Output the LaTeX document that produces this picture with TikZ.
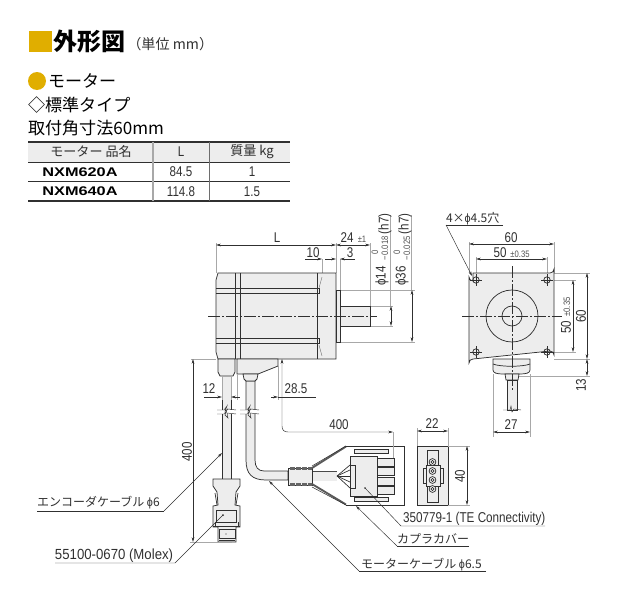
\documentclass[tikz,border=0pt]{standalone}
\usepackage{fontspec}
\usetikzlibrary{arrows.meta}
\setmainfont{Liberation Sans}
\newfontfamily\jpf{Noto Sans CJK JP}
\newfontfamily\nar{Liberation Sans}[FakeStretch=0.82]
\newfontfamily\semi{Liberation Sans}[FakeStretch=0.9]
\newfontfamily\wide{Liberation Sans}[FakeStretch=1.3]
\definecolor{gold}{HTML}{E0AE00}
\definecolor{ink}{HTML}{303030}
\definecolor{bodyc}{HTML}{EDEDED}
\definecolor{ext}{HTML}{A8A8A8}
\tikzset{
 lbl/.style={inner sep=0pt,outer sep=0pt,font=\nar\fontsize{10.6}{11}\selectfont,text=ink},
 sml/.style={inner sep=0pt,outer sep=0pt,font=\nar\fontsize{7}{8}\selectfont,text=ink!85},
 jpl/.style={inner sep=0pt,outer sep=0pt,font=\jpf\fontsize{9}{10}\selectfont,text=ink},
 head/.style={inner sep=0pt,outer sep=0pt,font=\jpf\fontsize{12.8}{14}\selectfont,text=black},
 boldr/.style={inner sep=0pt,outer sep=0pt,font=\wide\bfseries\fontsize{9.4}{10}\selectfont,text=black},
 dimn/.style={line width=.35pt,draw=ink,{Stealth[length=3.6pt,width=2pt]}-{Stealth[length=3.6pt,width=2pt]}},
 oneway/.style={line width=.35pt,draw=ink,-{Stealth[length=3.6pt,width=2pt]}},
 extl/.style={line width=.6pt,draw=ext},
 outl/.style={line width=.55pt,draw=ink,fill=bodyc},
 outn/.style={line width=.55pt,draw=ink},
 cen/.style={line width=.3pt,draw=ink,dash pattern=on 9pt off 1.5pt on 1.5pt off 1.5pt},
 lead/.style={line width=.35pt,draw=ink},
}
\begin{document}
\begin{tikzpicture}[x=0.75pt,y=-0.75pt]
\useasboundingbox (0,0) rectangle (618,600);
% ---------- heading
\fill[gold] (29,31) rectangle (52,52);
\node[inner sep=0pt,anchor=west,font=\jpf\bfseries\fontsize{18}{20}\selectfont] (ttl) at (53,41) {外形図};
\node[inner sep=0pt,anchor=west,font=\jpf\fontsize{10.6}{12}\selectfont,text=ink] (unitn) at (127,44) {（単位 mm）};
\fill[gold] (37,81) circle (9);
\node[head,anchor=west] (h1) at (48,81) {モーター};
\node[head,anchor=west] (h2) at (28,105) {◇標準タイプ};
\node[head,anchor=west] (h3) at (28,128) {取付角寸法60mm};
% ---------- table
\fill[bodyc] (28,142) rectangle (290,162);
\draw[line width=.9pt,ink] (28,142) -- (290,142);
\draw[line width=.7pt,ink] (28,162) -- (290,162);
\draw[line width=.5pt,ink] (28,181) -- (290,181);
\draw[line width=.8pt,ink] (28,201) -- (290,201);
\draw[line width=1pt,ext] (153,142) -- (153,201);
\draw[line width=.5pt,ink!70] (209,142) -- (209,201);
\node[jpl,font=\jpf\fontsize{9.8}{10}\selectfont] (t1) at (91,152) {モーター 品名};
\node[lbl] (t2) at (181,152) {L};
\node[jpl,font=\jpf\fontsize{9.8}{10}\selectfont] (t3) at (252,152) {質量 kg};
\node[boldr] (r1) at (80,172) {NXM620A};
\node[lbl] (r1b) at (181,172) {84.5};
\node[lbl] (r1c) at (252,172) {1};
\node[boldr] (r2) at (80,191) {NXM640A};
\node[lbl] (r2b) at (181,192) {114.8};
\node[lbl] (r2c) at (252,192) {1.5};
% ---------- side view: extension lines beneath
\draw[extl] (216,273)--(216,243) (336,273)--(336,243) (370,306)--(370,243);
\draw[extl] (322,281)--(322,259) (340,290)--(340,259);
\draw[extl] (370,306)--(393,306) (370,326)--(393,326) (340,290)--(415,290) (340,342)--(415,342);
\draw[extl] (390,306)--(390,215) (411,290)--(411,215);
% motor
\draw[outl] (336,273) -- (218,273) -- (216,280) -- (216,352) -- (218,359) -- (336,359) -- cycle;
\draw[outl] (336,290) rectangle (340,342);
\draw[outl] (340,306) rectangle (370,326);
\draw[outn] (235,273)--(235,359) (240,273)--(240,359) (317,273)--(317,359);
\draw[outn] (216,288.5)--(319,288.5)--(319,293)--(216,293);
\draw[outn] (216,338)--(319,338)--(319,343)--(216,343);
\draw[line width=.3pt,ink!70] (319,288)--(322,277) (319,345)--(322,356);
\draw[cen] (208,316)--(377,316);
% encoder lead
\draw[outl] (222,375) rectangle (231,479);
\draw[outl] (218,359)--(235,359)--(235,372)--(233,376)--(220,376)--(218,372)--cycle;
% motor lead
\draw[outl] (246,381) -- (246,460) .. controls (246,474) and (252,480) .. (266,480) -- (288,480) -- (288,471) -- (264,471) .. controls (258,471) and (255,467) .. (255,460) -- (255,381) -- cycle;
\draw[outl] (237,359)--(278,359)--(278,366)--(258,374)--(237,374)--cycle;
\draw[outl] (243,374)--(258,374)--(257,379)--(255,381)--(246,381)--(244,379)--cycle;
% breaks
\foreach \x/\a/\b in {226/217/236,249/240/259}{
 \fill[white] (\a,410) rectangle (\b,414);
 \draw[line width=.35pt,ink] (\a,410)--(\x-2,410)--(\x+1,406)--(\x-1,411)--(\x+2,409)--(\b,410);
 \draw[line width=.35pt,ink] (\a,414)--(\x-2,414)--(\x+1,410)--(\x-1,415)--(\x+2,418)--(\x+1,413)--(\b,414);
}
% encoder connector
\draw[outl] (213,479)--(240,479)--(240,486)--(236,492)--(235,505)--(240,506)--(240,527)--(236,527)--(236,542)--(218,542)--(218,527)--(213,527)--(213,506)--(218,505)--(217,492)--(213,486)--cycle;
\draw[outn] (215,493)--(217,505) (238,493)--(236,505);
\draw[outl] (216,510) rectangle (236,522);
\draw[outn] (215,522)--(215,527) (238,522)--(238,527) (213,526)--(240,526);
\draw[outl] (219,529) rectangle (235,538);
\draw[outn] (219,540)--(235,540);
\fill[ink] (226,534) circle (.7);
% coupler
\draw[outl] (288,468)--(312,468)--(312,485)--(288,485)--cycle;
\draw[line width=1.6pt,ink!75,dash pattern=on 4pt off .5pt] (290,468.5)--(312,468.5) (290,484.5)--(312,484.5);
\draw[outl] (312,471) rectangle (337,481);
\fill[white,draw=none] (313,468)--(346,446)--(404,446)--(404,505)--(346,505)--(313,485)--(313,481)--(337,481)--(337,471)--(313,471)--cycle;
\draw[line width=.55pt,ink] (404,446)--(404,505)--(346,505);
\draw[line width=.55pt,ink] (404,446)--(346,446);
\draw[line width=1.4pt,ink!80] (346,446.5)--(312,468);
\draw[line width=1.4pt,ink!80] (346,504.5)--(312,484);
\draw[line width=.4pt,ink] (346,446)--(312,466) (346,505)--(312,487);
% cover latches
\draw[outl] (354,449)rectangle(388,453);
\draw[outl] (354,497)rectangle(388,501);
% terminals
\foreach \y in {458,467,477,486}{\draw[outl] (377,\y) rectangle (394,\y+8);}
\foreach \y in {465,470,476,482,488}{\draw[line width=.5pt,ink] (337,476)--(350,\y);}
\draw[outl] (350,456)--(377,456)--(377,496)--(350,496)--cycle;
\draw[outn] (350,465)--(355,465)--(355,488)--(350,488);
\fill[ink] (365,488) circle (.9);
% connector front view
\draw[outl] (417,446) rectangle (448,505);
\draw[outl] (427,450) rectangle (438,502);
\draw[outl] (423,468) rectangle (443,483);
\draw[outl] (426,465) rectangle (440,486);
\foreach \y in {462,471,480,489}{\draw[outn,fill=white] (432.5,\y) circle (3.4);\draw[outn] (432.5,\y) circle (1.7);}
% side dims
\draw[dimn] (216,245)--(336,245);
\draw[dimn] (336,245)--(370,245);
\node[lbl] (dL) at (277,238) {L};
\node[lbl] (d24) at (347,238) {24};
\node[sml] (d24t) at (362,239) {±1};
\draw[lead] (305,259)--(314,259);
\draw[oneway] (314,259)--(322,259);
\draw[oneway] (347,259)--(340,259);
\draw[oneway] (325,259)--(336,259);
\draw[lead] (355,259)--(347,259);
\node[lbl] (d10) at (313,253) {10};
\node[lbl] (d3) at (350,253) {3};
\draw[dimn] (391,306)--(391,326);
\draw[dimn] (412,290)--(412,342);
\node[lbl,rotate=90] (p14) at (382,276) {ϕ14};
\node[sml,rotate=90] (p14a) at (375,252) {0};
\node[sml,rotate=90,anchor=west] (p14b) at (385,260) {−0.018};
\node[lbl,rotate=90,anchor=west] (p14c) at (385,234) {(h7)};
\node[lbl,rotate=90] (p36) at (402,276) {ϕ36};
\node[sml,rotate=90] (p36a) at (397,252) {0};
\node[sml,rotate=90,anchor=west] (p36b) at (407,260) {−0.025};
\node[lbl,rotate=90,anchor=west] (p36c) at (405,234) {(h7)};
% lead dims
\draw[extl] (222,376)--(222,400) (231,376)--(231,400) (237,374)--(237,400) (278,366)--(278,400);
\draw[lead] (204,397)--(215,397);
\draw[oneway] (215,397)--(222,397);
\draw[oneway] (237,397)--(231,397);
\draw[lead] (237,397)--(240,397);
\draw[oneway] (271,397)--(278,397);
\draw[lead] (278,397)--(316,397);
\node[lbl] (d12) at (209,389) {12};
\node[lbl] (d285) at (296,389) {28.5};
\draw[extl] (191,359)--(216,359) (190,542)--(232,542);
\draw[dimn] (193,359)--(193,542);
\node[lbl,rotate=90] (d400a) at (187,452) {400};
\draw[extl] (393,432)--(393,458);
\draw[line width=.35pt,ink,{Stealth[length=3.6pt,width=2pt]}-{Stealth[length=3.6pt,width=2pt]}] (282,359)--(282,426) .. controls (282,430) and (284,432) .. (288,432) -- (393,432);
\node[lbl] (d400b) at (339,425) {400};
% 22 / 40
\draw[extl] (417,428)--(417,446) (448,428)--(448,446);
\draw[dimn] (417,431)--(448,431);
\node[lbl] (d22) at (432,424) {22};
\draw[extl] (448,446)--(470,446) (448,505)--(470,505);
\draw[dimn] (467,446)--(467,505);
\node[lbl,rotate=90] (d40) at (460,476) {40};
% ---------- front view
\draw[extl] (469,273)--(469,242) (554,273)--(554,242) (476,280)--(476,257) (547,280)--(547,257);
\draw[extl] (554,273)--(590,273) (554,359)--(590,359) (519,376)--(590,376);
\draw[extl] (547,280)--(576,280) (547,352)--(576,352);
\draw[extl] (493,374)--(493,437) (530,374)--(530,437);
\draw[outl] (473,273)--(550,273) arc (90:0:4) -- (554,355) arc (0:-90:4) -- (473,359) arc (-90:-180:4) -- (469,277) arc (180:90:4) -- cycle;
\draw[outl] (493,359)--(530,359)--(530,370) .. controls (530,373) and (526,374) .. (520,374) -- (503,374) .. controls (497,374) and (493,373) .. (493,370) -- cycle;
\draw[outn] (493,364) .. controls (500,367) and (523,367) .. (530,364);
\draw[outl] (505,374)--(519,374)--(518,380)--(506,380)--cycle;
\draw[outl] (507,380)--(517,380)--(517,410)--(507,410)--cycle;
\draw[line width=.35pt,ink] (503,410)--(510,410)--(511,406)--(512,412)--(514,409)--(521,410);
\draw[outn] (512,316) circle (26);
\draw[outn] (512,316) circle (10);
\foreach \x/\y in {476/280,547/280,476/352,547/352}{
 \draw[outn] (\x,\y) circle (3.2);
 \draw[line width=.3pt,ink] (\x-6,\y)--(\x+6,\y) (\x,\y-6)--(\x,\y+6);
}
\draw[cen] (462,316)--(562,316);
\draw[cen] (512,266)--(512,392);
\draw[dimn] (469,244)--(554,244);
\node[lbl] (f60) at (511,238) {60};
\draw[dimn] (476,259)--(547,259);
\node[lbl] (f50) at (500,253) {50};
\node[sml] (f50t) at (520,254.5) {±0.35};
\draw[dimn] (587,273)--(587,359);
\node[lbl,rotate=90] (f60r) at (581,316) {60};
\draw[dimn] (573,280)--(573,352);
\node[lbl,rotate=90] (f50r) at (566,327) {50};
\node[sml,rotate=90] (f50rt) at (567,307) {±0.35};
\draw[dimn] (587,359)--(587,376);
\node[lbl,rotate=90] (f13) at (581,385) {13};
\draw[dimn] (493,432)--(530,432);
\node[lbl] (f27) at (511,425) {27};
% ---------- callouts
\node[jpl,anchor=base west] (c4) at (446,222) {4×{\semi ϕ}4.5穴};
\coordinate (h4) at (472,276);
\draw[lead] (503,225)--(446,225);
\draw[oneway] (446,225)--(h4);
\node[jpl,anchor=base west] (cEnc) at (37,506) {エンコーダケーブル {\semi ϕ}6};
\coordinate (hEnc) at (222,453);
\draw[lead] (37,511)--(164,511);
\draw[oneway] (164,511)--(hEnc);
\node[lbl,anchor=base west,font=\semi\fontsize{11}{12}\selectfont] (cMol) at (55,559) {55100-0670 (Molex)};
\coordinate (hMol) at (223,515);
\draw[lead] (55,563)--(175,563)--(hMol);
\fill[ink] (hMol) circle (1);
\node[lbl,anchor=base west,font=\nar\fontsize{10.7}{12}\selectfont] (cTE) at (403,522) {350779-1 (TE Connectivity)};
\coordinate (hTE) at (365,488);
\draw[lead] (545,526)--(401,526)--(hTE);
\node[jpl,anchor=base west] (cCov) at (397,543) {カプラカバー};
\coordinate (hCov) at (356,506);
\draw[lead] (469,546)--(397,546);
\draw[oneway] (397,546)--(hCov);
\node[jpl,anchor=base west] (cMot) at (361,568) {モーターケーブル {\semi ϕ}6.5};
\coordinate (hMot) at (269,481);
\draw[lead] (486,571)--(359,571);
\draw[oneway] (359,571)--(hMot);
\end{tikzpicture}
\end{document}
